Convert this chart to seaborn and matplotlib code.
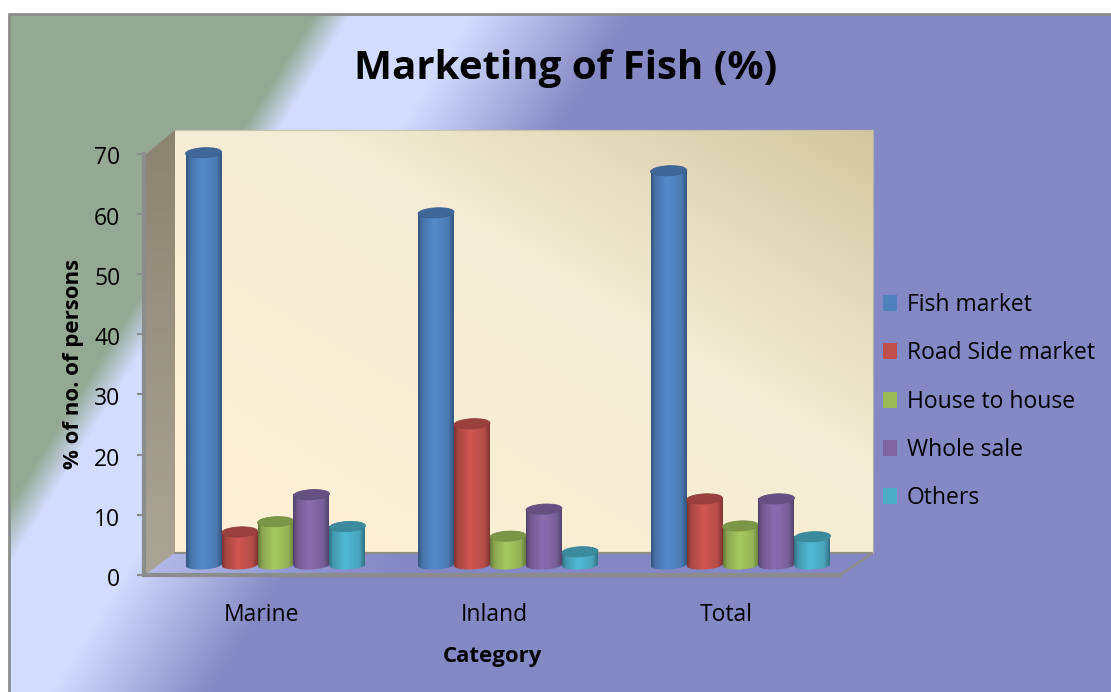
import numpy as np
import pandas as pd
import matplotlib
matplotlib.use("Agg")
import matplotlib.pyplot as plt
from matplotlib.colors import to_rgb
from matplotlib.patches import Ellipse, Polygon, Rectangle
from matplotlib.transforms import IdentityTransform, ScaledTranslation
import seaborn as sns

categories = ["Marine", "Inland", "Total"]
fish_market = [68.6, 58.6, 65.6]
road_side = [5.5, 23.5, 11.0]
house_to_house = [7.2, 4.8, 6.5]
whole_sale = [11.7, 9.3, 11.0]
others = [6.4, 2.2, 4.7]
series_names = ["Fish market", "Road Side market", "House to house", "Whole sale", "Others"]
colors = ["#4F81BD", "#C0504D", "#9BBB59", "#8064A2", "#4BACC6"]
y_ticks = [0, 10, 20, 30, 40, 50, 60, 70]

W, H = 1111, 692

sns.set_theme(style="white", rc={"text.color": "black", "axes.labelcolor": "black",
                                 "xtick.color": "black", "ytick.color": "black"})
plt.rcParams["font.family"] = ["Open Sans", "DejaVu Sans"]

df = pd.DataFrame({"Category": categories, "Fish market": fish_market, "Road Side market": road_side,
                   "House to house": house_to_house, "Whole sale": whole_sale, "Others": others})
df = df.melt(id_vars="Category", var_name="Series", value_name="Percent")


def ramp(t, stops):
    # stops: list of (position, colour)
    pos = [s[0] for s in stops]
    rgb = np.array([to_rgb(s[1]) for s in stops])
    return np.dstack([np.interp(t, pos, rgb[:, i]) for i in range(3)])


def px_axes(x0, y_top, x1, y_bottom):
    return fig.add_axes([x0 / W, 1 - y_bottom / H, (x1 - x0) / W, (y_bottom - y_top) / H])


fig = plt.figure(figsize=(W / 100, H / 100), dpi=100, facecolor="white")

# background, walls and floor, all in pixel coords
bg = fig.add_axes([0, 0, 1, 1])
bg.set_xlim(0, W)
bg.set_ylim(H, 0)
bg.axis("off")

xx, yy = np.meshgrid(np.arange(9, W), np.arange(14, H))
img = ramp(xx + 0.62 * yy, [(322, "#94A994"), (359, "#D2DCFE"), (480, "#D2DCFE"), (640, "#8488C4")])
bg.imshow(img, extent=(9, W, H, 14), aspect="auto", zorder=0)
bg.plot([9, 9], [H, 14], color="#8c8c8c", lw=2, zorder=1)
bg.plot([9, W], [14, 14], color="#8c8c8c", lw=2, zorder=1)

xx, yy = np.meshgrid(np.linspace(0, 1, 200), np.linspace(0, 1, 200))
wall = ramp(0.5 * xx + 0.5 * (1 - yy), [(0, "#FFF1D6"), (0.6, "#F4ECD4"), (1, "#D3C7A1")])
bg.imshow(wall, extent=(175, 873, 553, 130), aspect="auto", zorder=1)

side_img = ramp(yy, [(0, "#8B8470"), (1, "#ABA596")])
side = bg.imshow(side_img, extent=(145, 175, 575, 130), aspect="auto", zorder=1)
side.set_clip_path(Polygon([(145, 155), (175, 130), (175, 553), (145, 575)], transform=bg.transData))

floor_img = ramp(xx, [(0, "#B4BBE8"), (0.2, "#9298D0"), (0.35, "#8488C4"), (1, "#8488C4")])
floor = bg.imshow(floor_img, extent=(145, 873, 575, 553), aspect="auto", zorder=1)
floor.set_clip_path(Polygon([(145, 575), (175, 553), (873, 553), (840, 575)], transform=bg.transData))
bg.plot([175, 873, 840], [553, 553, 575], color="#8f8d88", lw=1.6, zorder=2)
bg.plot([873, 873], [130, 553], color="#b9b2a0", lw=0.8, zorder=2)
bg.plot([175, 873], [130, 130], color="#c8c2b0", lw=0.8, zorder=2)
bg.set_xlim(0, W)
bg.set_ylim(H, 0)

# front axes carries the ticks and labels
ax = px_axes(144, 153.5, 840, 575)
ax.patch.set_alpha(0)
ax.set_xlim(-0.5, 2.5)
ax.set_ylim(0, 70)
ax.set_xticks(range(len(categories)))
ax.set_xticklabels(categories, fontsize=16.5)
ax.set_yticks(y_ticks)
ax.tick_params(axis="y", left=True, length=5, width=1.5, color="#8c8c8c", labelsize=16.5, pad=12)
ax.tick_params(axis="x", bottom=False, pad=14)
for s in ["top", "right"]:
    ax.spines[s].set_visible(False)
for s in ["left", "bottom"]:
    ax.spines[s].set_color("#8c8c8c")
    ax.spines[s].set_linewidth(3)
ax.set_xlabel("Category", fontsize=16, fontweight="bold", labelpad=14)
ax.set_ylabel("% of no. of persons", fontsize=16, fontweight="bold", labelpad=7)

# nudge the labels a couple of pixels
for lab in ax.get_xticklabels():
    lab.set_transform(lab.get_transform() + ScaledTranslation(2 / 100, 0, fig.dpi_scale_trans))
for lab in ax.get_yticklabels():
    lab.set_transform(lab.get_transform() + ScaledTranslation(0, -2 / 100, fig.dpi_scale_trans))

# bars sit a bit behind the front plane
ax_bars = px_axes(159.25, 132.3, 856.75, 577)
ax_bars.patch.set_alpha(0)
sns.barplot(data=df, x="Category", y="Percent", hue="Series", hue_order=series_names,
            order=categories, palette=colors, width=0.774, gap=0, saturation=1, ax=ax_bars)
ax_bars.set_xlim(-0.5, 2.5)
ax_bars.set_ylim(-2, 72)
ax_bars.axis("off")
ax_bars.get_legend().remove()

profile_x = np.linspace(0, 1, 40)
shade = np.interp(profile_x, [0, 0.1, 0.45, 0.85, 1], [0.66, 0.88, 1.08, 0.95, 0.68])

z = 3
bars = sorted(ax_bars.patches, key=lambda p: p.get_x())
for bar in bars:
    if bar.get_height() <= 0:
        continue
    x0, w, h = bar.get_x(), bar.get_width(), bar.get_height()
    base = np.array(bar.get_facecolor()[:3])
    strip = np.clip(shade[None, :, None] * base[None, None, :], 0, 1)
    bar.set_visible(False)
    cx, y_top = ax_bars.transData.transform((x0 + w / 2, h))
    _, y_bot = ax_bars.transData.transform((x0, 0))
    wpx = ax_bars.transData.transform((x0 + w, 0))[0] - ax_bars.transData.transform((x0, 0))[0]

    low = Ellipse((cx, y_bot), wpx, 9, angle=3, transform=IdentityTransform())
    im = ax_bars.imshow(strip, extent=(x0, x0 + w, -2, 1), aspect="auto", zorder=z)
    im.set_clip_path(low)
    ax_bars.imshow(strip, extent=(x0, x0 + w, 0, h), aspect="auto", zorder=z + 0.1)
    ax_bars.add_patch(Ellipse((cx, y_top), wpx, 10, angle=3, transform=IdentityTransform(),
                              facecolor=base * 0.8, edgecolor=base * 0.76, lw=0.6, zorder=z + 0.2))
    z += 1
ax_bars.set_xlim(-0.5, 2.5)
ax_bars.set_ylim(-2, 72)

fig.text(566 / W, 1 - 68 / H, "Marketing of Fish (%)", fontsize=29, fontweight="bold",
         ha="center", va="center", color="black")

legend_handles = [Rectangle((0, 0), 1, 1, facecolor=c, edgecolor="none", linewidth=0) for c in colors]
fig.legend(legend_handles, series_names, loc="upper left", bbox_to_anchor=(883 / W, 1 - 293 / H),
           frameon=False, fontsize=16.5, labelspacing=1.06, handlelength=0.61, handleheight=0.7,
           handletextpad=0.44, borderpad=0, borderaxespad=0, labelcolor="black")

fig.savefig("out.png", dpi=100)
